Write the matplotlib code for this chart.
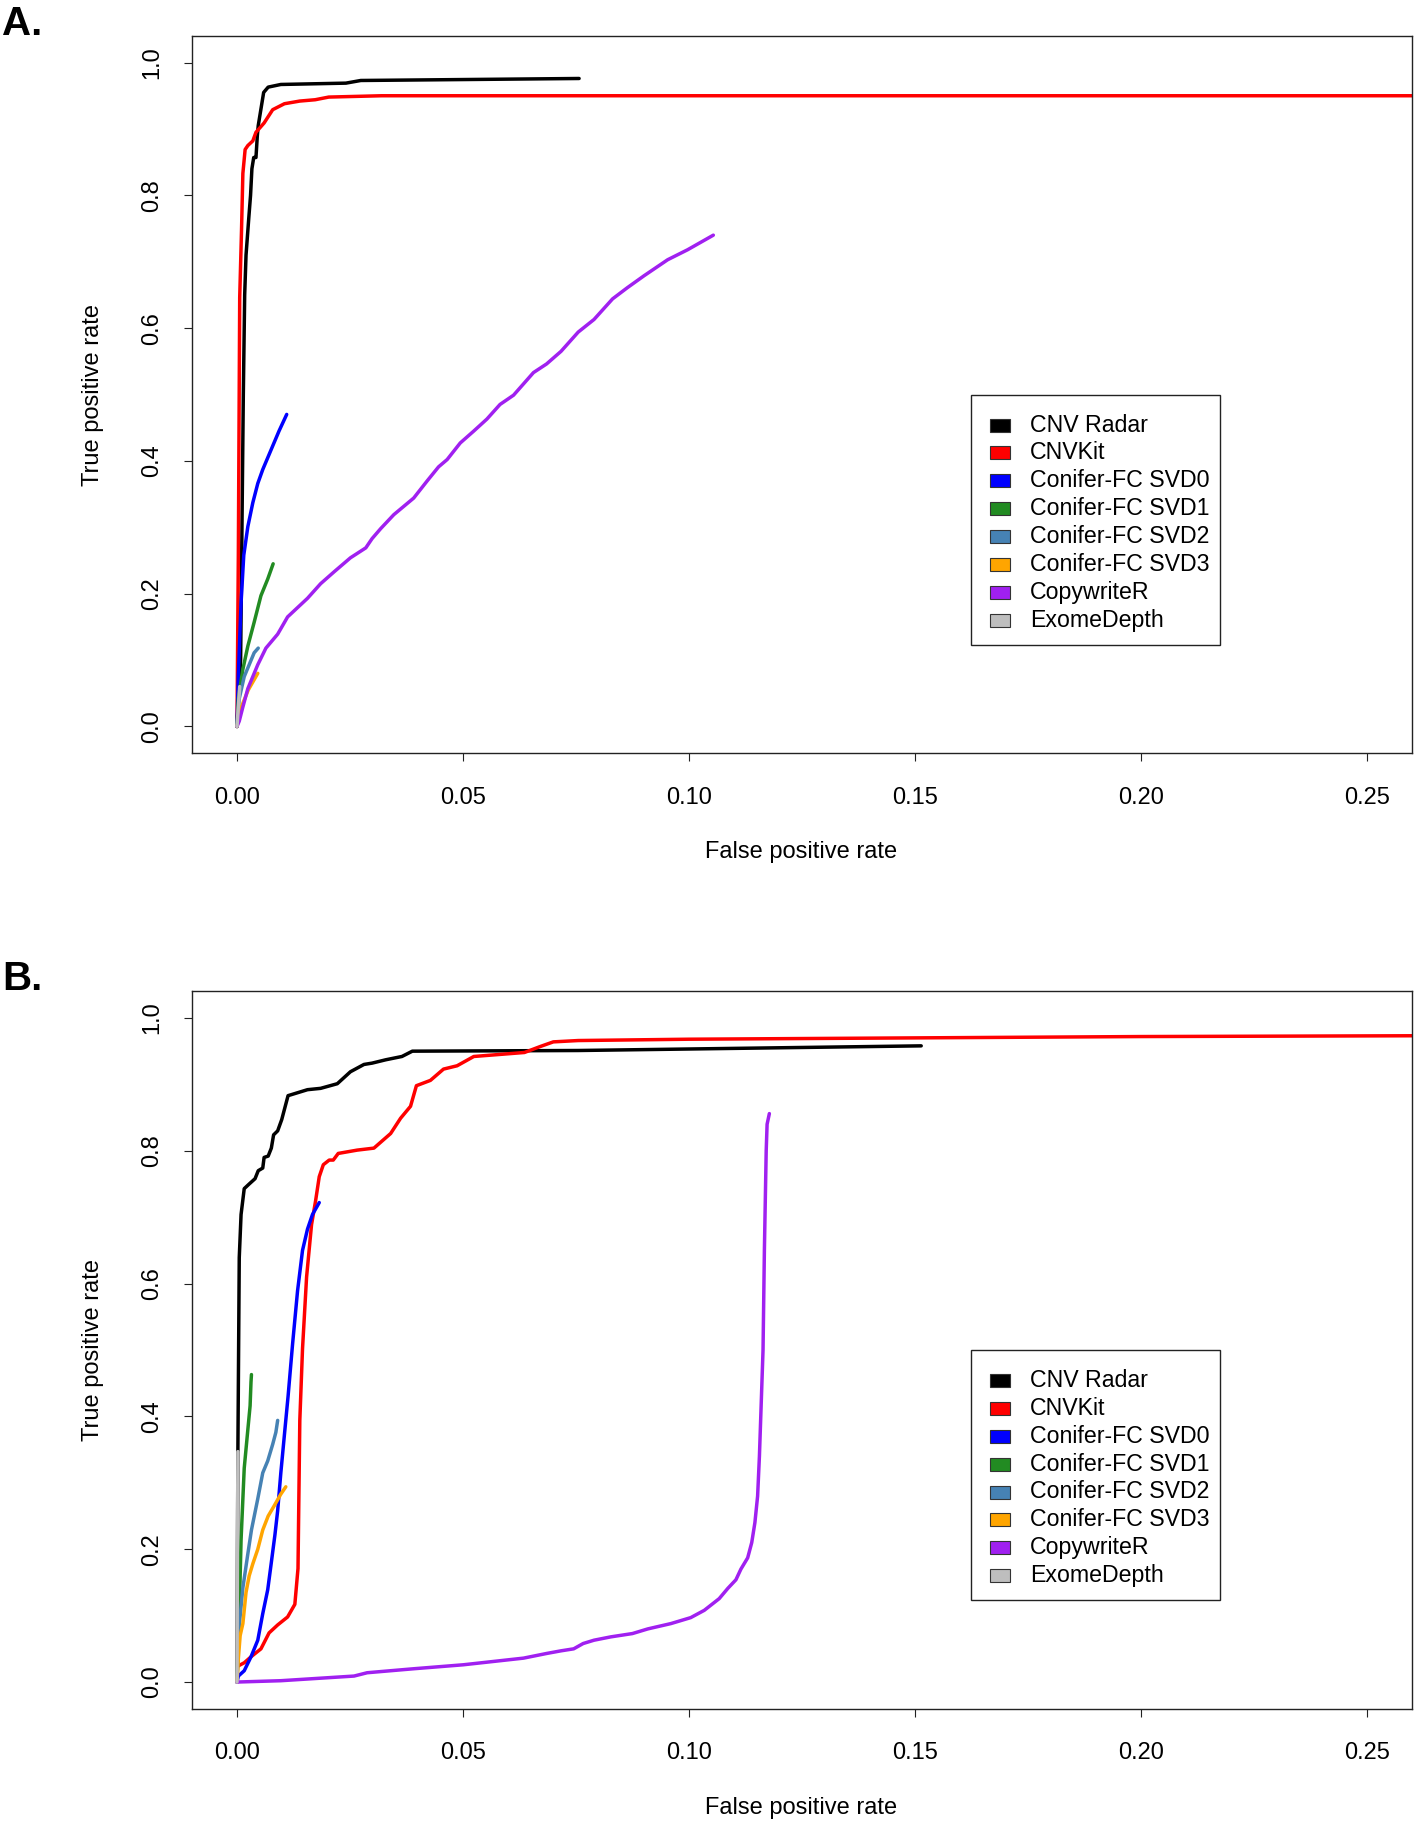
import matplotlib
matplotlib.use("Agg")
import matplotlib.pyplot as plt
from matplotlib.patches import Rectangle

plt.rcParams['font.family'] = ['Liberation Sans', 'DejaVu Sans']

methods = ["CNV Radar", "CNVKit", "Conifer-FC SVD0", "Conifer-FC SVD1",
           "Conifer-FC SVD2", "Conifer-FC SVD3", "CopywriteR", "ExomeDepth"]
colors = ["#000000", "#FF0000", "#0000FF", "#228B22",
          "#4682B4", "#FFA500", "#A020F0", "#BEBEBE"]

x_ticks = [0.00, 0.05, 0.10, 0.15, 0.20, 0.25]
x_tick_labels = ["0.00", "0.05", "0.10", "0.15", "0.20", "0.25"]
y_ticks = [0.0, 0.2, 0.4, 0.6, 0.8, 1.0]
y_tick_labels = ["0.0", "0.2", "0.4", "0.6", "0.8", "1.0"]

# ---------------- Panel A ----------------
a_radar_x = [0, 0.0008, 0.0011, 0.0014, 0.0017, 0.0020, 0.0026, 0.0030, 0.0033, 0.0037,
             0.0042, 0.0045, 0.0047, 0.0053, 0.0059, 0.0069, 0.0097, 0.0241, 0.0274, 0.0757]
a_radar_y = [0, 0.10, 0.30, 0.50, 0.65, 0.71, 0.765, 0.80, 0.84, 0.857,
             0.857, 0.89, 0.905, 0.93, 0.955, 0.963, 0.967, 0.969, 0.973, 0.976]

a_kit_x = [0, 0.0003, 0.0006, 0.0010, 0.0013, 0.0018, 0.0024, 0.0035, 0.0042, 0.0060,
           0.0079, 0.0105, 0.0139, 0.0173, 0.0203, 0.032, 0.30]
a_kit_y = [0, 0.26, 0.646, 0.747, 0.833, 0.869, 0.875, 0.882, 0.895, 0.909,
           0.929, 0.938, 0.942, 0.944, 0.948, 0.950, 0.950]

a_svd0_x = [0, 0.0003, 0.0009, 0.0015, 0.0024, 0.0035, 0.0046, 0.0057, 0.0075, 0.0093, 0.0110]
a_svd0_y = [0, 0.078, 0.186, 0.258, 0.301, 0.337, 0.366, 0.387, 0.416, 0.445, 0.470]

a_svd1_x = [0, 0.0003, 0.0013, 0.0024, 0.0038, 0.0053, 0.0068, 0.0080]
a_svd1_y = [0, 0.042, 0.086, 0.121, 0.157, 0.197, 0.222, 0.245]

a_svd2_x = [0, 0.0005, 0.0016, 0.0027, 0.0038, 0.0047]
a_svd2_y = [0, 0.042, 0.075, 0.093, 0.111, 0.118]

a_svd3_x = [0, 0.0010, 0.0025, 0.0046]
a_svd3_y = [0, 0.030, 0.055, 0.080]

a_cw_x = [0, 0.0005, 0.00125, 0.0024, 0.0046, 0.0064, 0.0090, 0.0112, 0.0134, 0.0156,
          0.0185, 0.0215, 0.0251, 0.0285, 0.0299, 0.0318, 0.0347, 0.0391, 0.0421, 0.0446,
          0.0465, 0.0494, 0.0524, 0.0553, 0.0582, 0.0612, 0.0656, 0.0685, 0.0717, 0.0755,
          0.0790, 0.0831, 0.0864, 0.0901, 0.0953, 0.0997, 0.1054]
a_cw_y = [0, 0.008, 0.028, 0.057, 0.093, 0.118, 0.139, 0.165, 0.179, 0.193,
          0.215, 0.233, 0.254, 0.269, 0.283, 0.298, 0.319, 0.344, 0.370, 0.391,
          0.402, 0.427, 0.445, 0.463, 0.485, 0.499, 0.533, 0.546, 0.565, 0.594,
          0.613, 0.644, 0.661, 0.679, 0.703, 0.718, 0.740]

a_ed_x = [0, 0.0003, 0.0006]
a_ed_y = [0, 0.030, 0.060]

# ---------------- Panel B ----------------
b_radar_x = [0, 0.0002, 0.0005, 0.0009, 0.0016, 0.0027, 0.0040, 0.0047, 0.0057, 0.0060,
             0.0069, 0.0076, 0.0081, 0.0090, 0.0099, 0.0106, 0.0113, 0.0156, 0.0185, 0.0222,
             0.0251, 0.0281, 0.0299, 0.0329, 0.0365, 0.0388, 0.0755, 0.1514]
b_radar_y = [0, 0.35, 0.639, 0.704, 0.743, 0.750, 0.758, 0.770, 0.774, 0.790,
             0.792, 0.804, 0.824, 0.830, 0.847, 0.865, 0.883, 0.892, 0.894, 0.901,
             0.919, 0.930, 0.932, 0.937, 0.942, 0.950, 0.951, 0.958]

b_kit_x = [0.0002, 0.0016, 0.0031, 0.0053, 0.0071, 0.0090, 0.0112, 0.0128, 0.0135, 0.0139,
           0.0145, 0.0154, 0.0165, 0.0174, 0.0182, 0.0191, 0.0204, 0.0213, 0.0224, 0.0266,
           0.0303, 0.0340, 0.0362, 0.0384, 0.0397, 0.0428, 0.0457, 0.0487, 0.0524, 0.0636,
           0.0671, 0.0700, 0.0755, 0.10, 0.15, 0.20, 0.30]
b_kit_y = [0.024, 0.029, 0.038, 0.050, 0.074, 0.086, 0.098, 0.117, 0.171, 0.394,
           0.502, 0.610, 0.689, 0.725, 0.761, 0.779, 0.786, 0.786, 0.796, 0.801,
           0.804, 0.826, 0.849, 0.867, 0.898, 0.906, 0.923, 0.928, 0.942, 0.948,
           0.957, 0.964, 0.966, 0.968, 0.970, 0.972, 0.974]

b_svd0_x = [0, 0.0003, 0.0016, 0.0031, 0.0046, 0.0057, 0.0068, 0.0075, 0.0084, 0.0090,
            0.0097, 0.0106, 0.0113, 0.0123, 0.0134, 0.0145, 0.0156, 0.0167, 0.0182]
b_svd0_y = [0, 0.009, 0.017, 0.038, 0.063, 0.103, 0.139, 0.175, 0.222, 0.258,
            0.315, 0.380, 0.430, 0.509, 0.589, 0.650, 0.682, 0.704, 0.722]

b_svd1_x = [0, 0.0005, 0.0009, 0.0016, 0.0024, 0.0029, 0.0031, 0.0032]
b_svd1_y = [0, 0.106, 0.214, 0.322, 0.380, 0.416, 0.452, 0.463]

b_svd2_x = [0, 0.0005, 0.0013, 0.0024, 0.0032, 0.0046, 0.0057, 0.0068, 0.0079, 0.0086, 0.0090]
b_svd2_y = [0, 0.085, 0.142, 0.193, 0.229, 0.276, 0.315, 0.333, 0.358, 0.376, 0.394]

b_svd3_x = [0, 0.0003, 0.0007, 0.0013, 0.0020, 0.0027, 0.0035, 0.0046, 0.0057, 0.0069,
            0.0082, 0.0097, 0.0108]
b_svd3_y = [0, 0.035, 0.070, 0.088, 0.135, 0.160, 0.178, 0.200, 0.229, 0.250,
            0.265, 0.283, 0.294]

b_cw_x = [0, 0.0097, 0.0259, 0.0288, 0.0391, 0.0501, 0.0634, 0.0685, 0.0717, 0.0745,
          0.0766, 0.0790, 0.0827, 0.0875, 0.0909, 0.0960, 0.1004, 0.1034, 0.1067, 0.1086,
          0.1104, 0.1115, 0.1130, 0.1139, 0.1146, 0.1152, 0.1156, 0.1160, 0.1164, 0.1167,
          0.1171, 0.1173, 0.1178]
b_cw_y = [0, 0.002, 0.009, 0.014, 0.020, 0.026, 0.036, 0.043, 0.047, 0.050,
          0.058, 0.063, 0.068, 0.073, 0.080, 0.088, 0.097, 0.108, 0.1256, 0.141,
          0.154, 0.170, 0.187, 0.210, 0.240, 0.280, 0.340, 0.420, 0.500, 0.650,
          0.800, 0.840, 0.856]

b_ed_x = [0, 0.0001, 0.0002]
b_ed_y = [0, 0.20, 0.347]

panel_A = [(a_radar_x, a_radar_y), (a_kit_x, a_kit_y), (a_svd0_x, a_svd0_y),
           (a_svd1_x, a_svd1_y), (a_svd2_x, a_svd2_y), (a_svd3_x, a_svd3_y),
           (a_cw_x, a_cw_y), (a_ed_x, a_ed_y)]
panel_B = [(b_radar_x, b_radar_y), (b_kit_x, b_kit_y), (b_svd0_x, b_svd0_y),
           (b_svd1_x, b_svd1_y), (b_svd2_x, b_svd2_y), (b_svd3_x, b_svd3_y),
           (b_cw_x, b_cw_y), (b_ed_x, b_ed_y)]

W, H = 1418, 1823
fig = plt.figure(figsize=(W / 100, H / 100), dpi=100)


def fx(px):
    return px / W


def fy(py):
    return 1 - py / H


ax_left, ax_right = 191.8, 1412.0
panels = [("A.", panel_A, 36.0, 753.0), ("B.", panel_B, 991.4, 1708.6)]
axis_fs = 17
legend_fs = 16.7

for letter, series, top, bottom in panels:
    ax = fig.add_axes([fx(ax_left), fy(bottom), fx(ax_right) - fx(ax_left), (bottom - top) / H])
    for (xs, ys), c in zip(series, colors):
        ax.plot(xs, ys, color=c, lw=2.5, solid_joinstyle='round', solid_capstyle='round')
    ax.set_xlim(-0.01, 0.26)
    ax.set_ylim(-0.04, 1.04)
    ax.set_xticks(x_ticks)
    ax.set_xticklabels(x_tick_labels, fontsize=axis_fs)
    ax.set_yticks(y_ticks)
    ax.set_yticklabels(y_tick_labels, fontsize=axis_fs, rotation=90, va='center')
    ax.tick_params(axis='both', direction='out', length=5.8, width=0.8, color='#222222')
    ax.tick_params(axis='x', pad=18.5)
    ax.tick_params(axis='y', pad=15)
    for s in ax.spines.values():
        s.set_linewidth(1.0)
        s.set_color('#222222')

    fig.text(fx(801), fy(bottom + 99), "False positive rate", fontsize=axis_fs,
             ha='center', va='center')
    fig.text(fx(93), fy((top + bottom) / 2), "True positive rate", fontsize=axis_fs,
             rotation=90, ha='center', va='center')
    fig.text(fx(2), fy(top - 1), letter, fontsize=29, fontweight='bold',
             ha='left', va='baseline')

    # legend
    ltop = top + 359
    lbot = top + 609
    fig.patches.append(Rectangle((fx(970.5), fy(lbot)), fx(1220) - fx(970.5), (lbot - ltop) / H,
                                 transform=fig.transFigure, facecolor='white',
                                 edgecolor='#222222', lw=1.0, zorder=5))
    for i, (name, c) in enumerate(zip(methods, colors)):
        cy = ltop + 30 + 27.9 * i
        fig.patches.append(Rectangle((fx(989.5), fy(cy + 6.5)), fx(20), 13 / H,
                                     transform=fig.transFigure, facecolor=c,
                                     edgecolor='#333333', lw=0.8, zorder=6))
        fig.text(fx(1030), fy(cy), name, fontsize=legend_fs, ha='left', va='center', zorder=7)

fig.savefig("out.png", dpi=100)
